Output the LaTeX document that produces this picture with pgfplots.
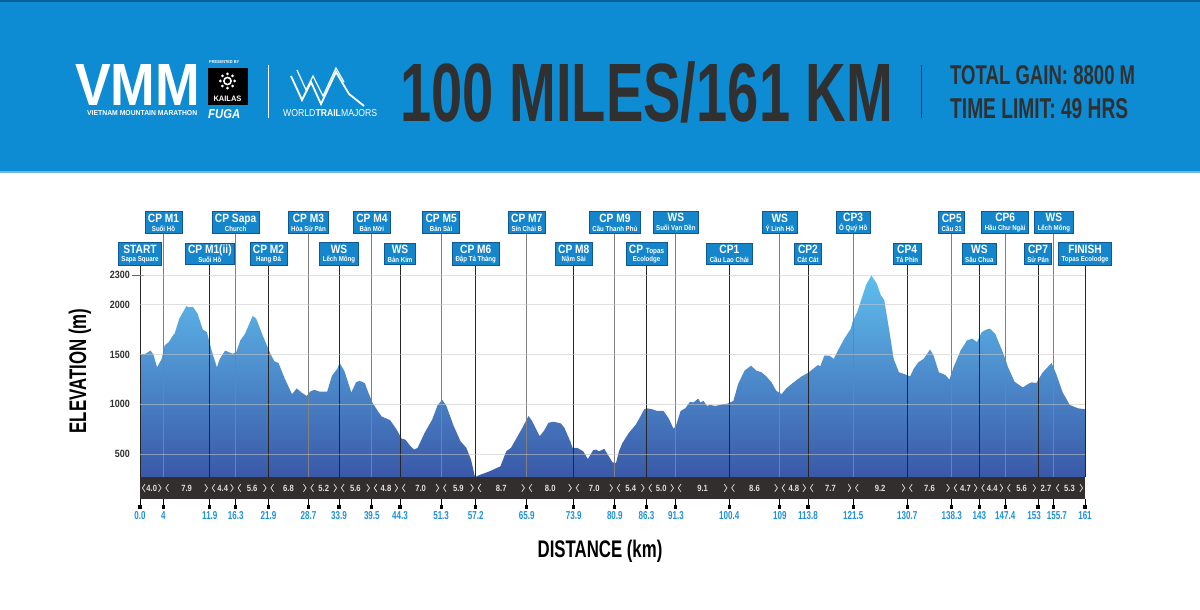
\documentclass[border=0pt]{standalone}
\usepackage{fontspec}
\setmainfont{Liberation Sans}
\newfontfamily\condA{Liberation Sans}[FakeStretch=0.85]
\newfontfamily\condB{Liberation Sans}[FakeStretch=0.7]
\usepackage{graphicx}
\usepackage{pgfplots}
\pgfplotsset{compat=1.18}
\usetikzlibrary{calc}
\definecolor{hdrblue}{RGB}{13,139,211}
\definecolor{hdrtop}{RGB}{10,95,155}
\definecolor{cpblue}{RGB}{22,134,204}
\definecolor{cpedge}{RGB}{16,88,145}
\definecolor{areatop}{RGB}{95,190,238}
\definecolor{areabot}{RGB}{58,88,168}
\definecolor{stripc}{RGB}{50,46,46}
\definecolor{kmblue}{RGB}{30,146,216}
\definecolor{darktxt}{RGB}{48,48,48}

\pgfplotstableread{
km elev
0 265
0 1500
0.9 1507
1.8 1540
2.3 1497
2.9 1371
3.7 1456
4.2 1591
4.9 1625
5.7 1700
5.9 1709
6.7 1861
7.9 1986
8.4 1975
9.0 1980
9.8 1912
10.7 1750
11.4 1726
12.2 1540
13.1 1371
13.6 1456
14.5 1540
15.8 1507
16.4 1524
17.1 1642
17.9 1709
19.2 1888
19.8 1861
20.9 1692
22.3 1497
22.9 1432
23.6 1415
24.7 1253
25.9 1101
26.7 1159
27.5 1118
28.4 1084
29.0 1128
29.7 1145
30.5 1128
31.9 1128
32.7 1287
33.6 1355
34.0 1415
34.8 1338
36.0 1118
36.8 1220
37.4 1236
38.3 1213
38.9 1118
39.6 1017
40.5 932
41.2 875
42.6 841
43.7 747
44.6 652
45.2 645
46.0 584
46.7 544
47.3 561
48.5 713
49.8 848
50.7 990
51.5 1044
52.2 983
53.4 787
54.6 628
55.6 561
56.4 443
57.0 285
57.2 270
57.7 285
59.5 324
61.4 375
62.4 527
63.2 561
65.0 747
66.2 882
66.8 831
67.5 747
68.1 679
68.8 730
69.6 814
70.5 824
71.7 807
72.3 763
73.3 628
73.7 561
74.5 561
75.5 527
76.3 449
77.2 537
77.7 544
78.2 527
79.1 551
79.7 493
80.5 416
81.1 409
81.6 527
82.2 611
83.3 713
84.5 797
85.3 882
85.9 949
86.4 959
87.3 949
88.1 932
89.2 932
90.1 855
90.9 753
91.3 780
92.1 932
92.9 959
93.7 1024
94.3 1017
95.1 1057
95.5 1017
96.0 1034
96.6 983
97.1 993
98.0 983
99.4 1000
100.2 1007
101.1 1034
101.9 1203
103.0 1338
104.1 1388
105.0 1338
105.9 1321
106.7 1280
107.6 1220
108.4 1135
109.3 1101
110.1 1159
111.2 1213
112.7 1280
113.5 1304
114.3 1338
115.5 1395
115.9 1382
116.6 1490
117.4 1490
118.2 1456
118.9 1540
120.0 1659
121.1 1760
121.4 1828
122.2 1929
122.8 2037
123.7 2199
124.6 2295
125.5 2216
126.2 2098
126.8 2047
127.6 1760
128.4 1456
129.3 1321
130.2 1304
131.2 1280
131.8 1355
132.6 1422
133.5 1456
134.6 1551
135.2 1490
136.1 1321
137.2 1294
137.9 1247
138.6 1371
139.8 1540
140.9 1642
141.8 1659
142.6 1625
143.4 1726
144.3 1753
144.8 1760
145.7 1709
147.1 1507
147.9 1371
149.0 1226
150.4 1169
151.3 1203
151.9 1220
152.7 1213
153.8 1321
155.3 1415
156.1 1304
157.2 1118
158.4 993
159.8 959
161 949
161 265
}\profile

\tikzset{
  cpbox/.style={fill=cpblue, draw=cpedge, line width=0.7pt, text=white, align=center,
    inner xsep=3pt, inner ysep=2pt,
    font=\condA\bfseries\fontsize{12}{8.8}\selectfont},
  kmlab/.style={text=kmblue, inner sep=0pt, font=\condB\bfseries\fontsize{11.5}{11}\selectfont},
  segtxt/.style={text=black!12, inner sep=0pt, font=\condA\bfseries\fontsize{9}{9}\selectfont},
  brk/.style={draw=black!15, line width=0.75pt},
}
\newcommand\sub[1]{{\fontsize{7.2}{8.8}\selectfont #1}}
% top row checkpoint
\newcommand\cpU[4][0pt]{%
  \draw[line width=0.9pt, black!50] (axis cs:#2,2828) -- (axis cs:#2,267);
  \draw[line width=0.9pt, black] (axis cs:#2,47) -- (axis cs:#2,-33);
  \node[fill=black, inner sep=0pt, minimum size=3.2pt] at (axis cs:#2,-33) {};
  \node[cpbox] at (axis cs:#2,2828) {#3\\\sub{#4}};
  \node[kmlab, xshift=#1] at (axis cs:#2,-123) {#2};
}
% lower row checkpoint
\newcommand\cpL[4][0pt]{%
  \draw[line width=0.9pt, black!85] (axis cs:#2,2511) -- (axis cs:#2,267);
  \draw[line width=0.9pt, black] (axis cs:#2,47) -- (axis cs:#2,-33);
  \node[fill=black, inner sep=0pt, minimum size=3.2pt] at (axis cs:#2,-33) {};
  \node[cpbox] at (axis cs:#2,2511) {#3\\\sub{#4}};
  \node[kmlab, xshift=#1] at (axis cs:#2,-123) {#2};
}
\newcommand\seg[3]{%
  \draw[brk] ($(axis cs:#1,158)+(5pt,3.8pt)$) -- ++(-2.6pt,-3.8pt) -- ++(2.6pt,-3.8pt);
  \draw[brk] ($(axis cs:#2,158)+(-5pt,3.8pt)$) -- ++(2.6pt,-3.8pt) -- ++(-2.6pt,-3.8pt);
  \node[segtxt] at ($(axis cs:#1,158)!0.5!(axis cs:#2,158)$) {#3};
}
\newcommand\segnb[3]{%
  \node[segtxt] at ($(axis cs:#1,158)!0.5!(axis cs:#2,158)$) {#3};
}

\begin{document}
\begin{tikzpicture}[x=1pt,y=1pt]
\path[use as bounding box] (0,0) rectangle (1200,610);
\fill[white] (0,0) rectangle (1200,610);
% header
\fill[hdrblue] (0,438) rectangle (1200,610);
\fill[hdrtop] (0,607.5) rectangle (1200,610);
\fill[hdrblue!60!white] (0,437) rectangle (1200,439);
% VMM logo
\node[anchor=base west, inner sep=0pt, text=white] at (75,504) {\resizebox{125pt}{41pt}{\bfseries VMM}};
\node[anchor=base west, inner sep=0pt, text=white] at (87,494) {\resizebox{110pt}{5pt}{\bfseries VIETNAM MOUNTAIN MARATHON}};
% Kailas
\node[anchor=base west, inner sep=0pt, text=white] at (209,546) {\resizebox{30pt}{3pt}{\bfseries PRESENTED BY}};
\fill[black] (207.5,505) rectangle (247.5,542);
\draw[white, line width=1.6pt] (227.5,529) circle (3.6);
\foreach \a in {0,45,...,315} {\fill[white] ($(227.5,529)+(\a:7.2)$) circle (1.5);}
\node[anchor=base, inner sep=0pt, text=white] at (227.5,508) {\resizebox{28pt}{5.5pt}{\bfseries KAILAS}};
\node[anchor=base west, inner sep=0pt, text=white] at (208,491) {\resizebox{32pt}{9pt}{\bfseries\itshape FUGA}};
\draw[white, line width=0.6pt] (268,492) -- (268,545);
% WTM logo
\draw[white, line width=1.8pt, line join=miter] (291,534) -- (302,510) -- (311,528) -- (321,506) -- (336,538) -- (349,516) -- (364,504);
\draw[white, line width=1.2pt, line join=miter] (297,540) -- (306,520) -- (313,534) -- (323,514) -- (336,542) -- (344,528);
\node[anchor=base west, inner sep=0pt, text=white] at (283,493) {\resizebox{94pt}{7pt}{\mdseries WORLD\bfseries TRAIL\mdseries MAJORS}};
% title
\node[anchor=base west, inner sep=0pt, text=darktxt] at (400,488) {\resizebox{493pt}{60pt}{\bfseries 100 MILES/161 KM}};
\draw[darktxt, line width=0.8pt] (921,492) -- (921,545);
\node[anchor=base west, inner sep=0pt, text=darktxt] at (950,525) {\resizebox{185pt}{19pt}{\bfseries TOTAL GAIN: 8800 M}};
\node[anchor=base west, inner sep=0pt, text=darktxt] at (950,491) {\resizebox{178pt}{20pt}{\bfseries TIME LIMIT: 49 HRS}};

% axis labels
\node[rotate=90, text=black, font=\condB\bfseries\fontsize{24}{24}\selectfont] at (80,239) {ELEVATION (m)};
\node[text=black, font=\condB\bfseries\fontsize{24}{24}\selectfont] at (600,59) {DISTANCE (km)};

\begin{axis}[
  at={(140pt,111pt)}, anchor=south west,
  scale only axis, width=945pt, height=229pt,
  xmin=0, xmax=161, ymin=47, ymax=2350,
  clip=false, axis on top,
  axis line style={draw=none}, tick style={draw=none},
  xtick=\empty,
  ytick={500,1000,1500,2000,2300},
  yticklabels={500,1000,1500,2000,2300},
  ymajorgrids, grid style={draw=black!22, line width=0.6pt, opacity=0.55},
  /pgf/number format/assume math mode=true,
  yticklabel style={anchor=east, inner sep=0pt, xshift=-10pt, text=darktxt,
    font=\condA\bfseries\fontsize{10.5}{10}\selectfont},
]
\addplot[draw=none, top color=areatop, bottom color=areabot] table[x=km, y=elev] {\profile};
\fill[stripc] (axis cs:0,47) rectangle (axis cs:161,267);
\draw[black!60, line width=0.7pt] (axis cs:-1.4,2300) -- (axis cs:0.6,2300);

\cpL{0.0}{START}{Sapa Square}
\cpU{4}{CP M1}{Suối Hồ}
\cpL{11.9}{CP M1(ii)}{Suối Hồ}
\cpU{16.3}{CP Sapa}{Church}
\cpL{21.9}{CP M2}{Hang Đá}
\cpU{28.7}{CP M3}{Hòa Sử Pán}
\cpL{33.9}{WS}{Lếch Mông}
\cpU{39.5}{CP M4}{Bản Mới}
\cpL{44.3}{WS}{Bản Kim}
\cpU{51.3}{CP M5}{Bản Sài}
\cpL{57.2}{CP M6}{Đập Tả Thàng}
\cpU{65.9}{CP M7}{Sín Chải B}
\cpL{73.9}{CP M8}{Nậm Sài}
\cpU{80.9}{CP M9}{Cầu Thanh Phú}
\cpL{86.3}{CP {\fontsize{7.5}{8.8}\selectfont Topas}}{Ecolodge}
\cpU{91.3}{WS}{Suối Vạn Dền}
\cpL{100.4}{CP1}{Cầu Lao Chải}
\cpU{109}{WS}{Ý Linh Hồ}
\cpL{113.8}{CP2}{Cát Cát}
\cpU{121.5}{CP3}{Ô Quý Hồ}
\cpL{130.7}{CP4}{Tả Phìn}
\cpU{138.3}{CP5}{Cầu 31}
\cpL{143}{WS}{Sâu Chua}
\cpU{147.4}{CP6}{Hầu Chư Ngài}
\cpL[-4pt]{153}{CP7}{Sử Pán}
\cpU[3pt]{155.7}{WS}{Lếch Mông}
\cpL{161}{FINISH}{Topas Ecolodge}

\seg{0}{4}{4.0}
\seg{4}{11.9}{7.9}
\seg{11.9}{16.3}{4.4}
\seg{16.3}{21.9}{5.6}
\seg{21.9}{28.7}{6.8}
\seg{28.7}{33.9}{5.2}
\seg{33.9}{39.5}{5.6}
\seg{39.5}{44.3}{4.8}
\seg{44.3}{51.3}{7.0}
\seg{51.3}{57.2}{5.9}
\seg{57.2}{65.9}{8.7}
\seg{65.9}{73.9}{8.0}
\seg{73.9}{80.9}{7.0}
\seg{80.9}{86.3}{5.4}
\seg{86.3}{91.3}{5.0}
\seg{91.3}{100.4}{9.1}
\seg{100.4}{109}{8.6}
\seg{109}{113.8}{4.8}
\seg{113.8}{121.5}{7.7}
\seg{121.5}{130.7}{9.2}
\seg{130.7}{138.3}{7.6}
\seg{138.3}{143}{4.7}
\seg{143}{147.4}{4.4}
\seg{147.4}{153}{5.6}
\segnb{153}{155.7}{2.7}
\seg{155.7}{161}{5.3}
\end{axis}
\end{tikzpicture}
\end{document}
